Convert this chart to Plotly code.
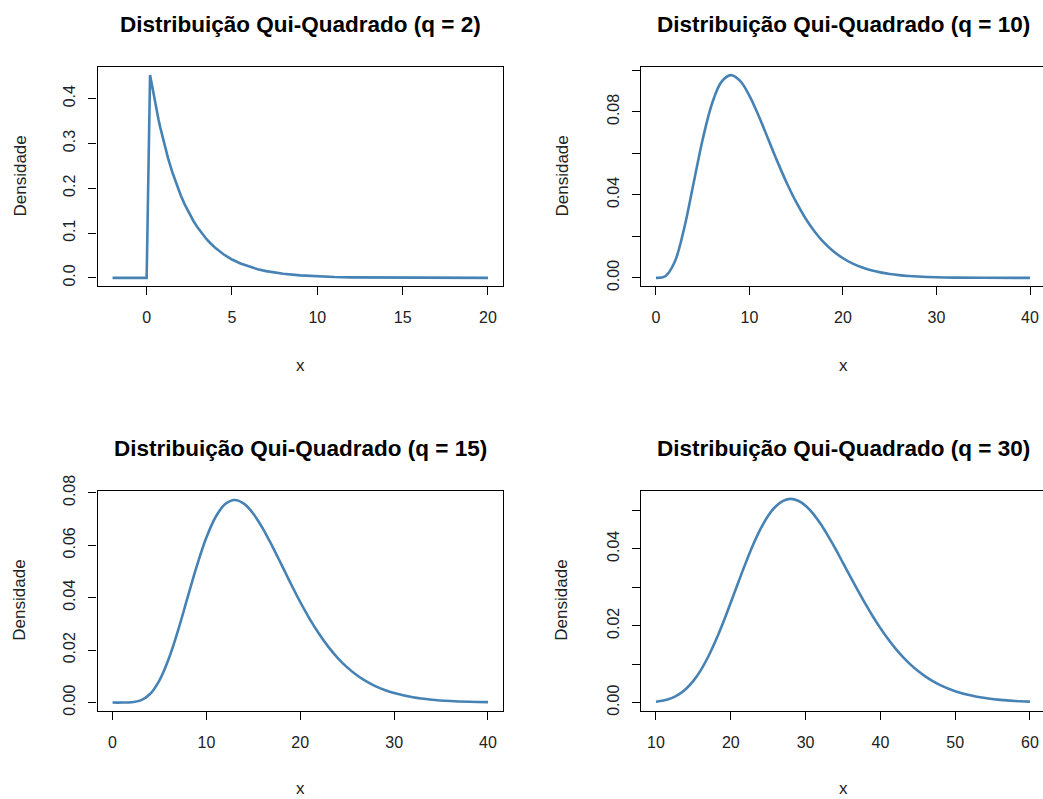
import plotly.graph_objects as go

# ---- data ----
x_q2 = [-2, -1, 0, 0.2, 0.3, 0.4, 0.5, 0.6, 0.7, 0.8, 0.9, 1.0, 1.25, 1.5, 1.75, 2, 2.25, 2.5,
        2.75, 3, 3.25, 3.5, 3.75, 4, 4.5, 5, 5.5, 6, 6.5, 7, 7.5, 8, 9, 10, 11, 12, 14, 16, 18, 20]
y_q2 = [0, 0, 0, 0.4524, 0.4304, 0.4094, 0.3894, 0.3704, 0.3523, 0.3352, 0.3188, 0.3033,
        0.2676, 0.2362, 0.2084, 0.1839, 0.1623, 0.1433, 0.1264, 0.1116, 0.0984, 0.0869,
        0.0767, 0.0677, 0.0527, 0.0410, 0.0320, 0.0249, 0.0194, 0.0151, 0.0118, 0.0092,
        0.0056, 0.0034, 0.0020, 0.0012, 0.0005, 0.0002, 0.0001, 0.00002]

x_q10 = [0, 1, 2, 3, 4, 5, 6, 7, 8, 9, 10, 11, 12, 13, 14, 15, 16, 17, 18, 19, 20,
         21, 22, 23, 24, 25, 26, 27, 28, 30, 32, 35, 40]
y_q10 = [0, 0.00079, 0.00766, 0.02353, 0.04511, 0.06680, 0.08402, 0.09441, 0.09770,
         0.09491, 0.08773, 0.07791, 0.06693, 0.05590, 0.04562, 0.03646, 0.02863,
         0.02213, 0.01687, 0.01271, 0.00946, 0.00697, 0.00509, 0.00369, 0.00265,
         0.00190, 0.00134, 0.00095, 0.00067, 0.00032, 0.00015, 0.00005, 0.000007]

x_q15 = [0, 1, 2, 3, 4, 5, 6, 7, 8, 9, 10, 11, 12, 13, 14, 15, 16, 17, 18, 19, 20,
         21, 22, 23, 24, 25, 26, 27, 28, 29, 30, 32, 34, 36, 38, 40]
y_q15 = [0, 0.000002, 0.0001, 0.00083, 0.00327, 0.00847, 0.01681, 0.02774, 0.04008,
         0.05230, 0.06292, 0.07087, 0.07570, 0.07724, 0.07585, 0.07201, 0.06646,
         0.05979, 0.05261, 0.04533, 0.03835, 0.03194, 0.02623, 0.02124, 0.01699,
         0.01343, 0.01051, 0.00815, 0.00626, 0.00477, 0.00361, 0.00202, 0.00110,
         0.00059, 0.00031, 0.00016]

x_q30 = [10, 11, 12, 13, 14, 15, 16, 17, 18, 19, 20, 21, 22, 23, 24, 25, 26, 27, 28, 29,
         30, 31, 32, 33, 34, 35, 36, 37, 38, 39, 40, 41, 42, 43, 44, 45, 46, 47, 48,
         50, 52, 54, 56, 58, 60]
y_q30 = [0.000236, 0.000543, 0.001114, 0.002071, 0.003546, 0.005652, 0.008458, 0.01199,
         0.01620, 0.02092, 0.02601, 0.03124, 0.03633, 0.04109, 0.04523, 0.04861, 0.05100,
         0.05245, 0.05297, 0.05250, 0.05121, 0.04915, 0.04648, 0.04337, 0.04000, 0.03633,
         0.03271, 0.02913, 0.02565, 0.02239, 0.01937, 0.01659, 0.01411, 0.01189, 0.00995,
         0.00827, 0.00681, 0.00558, 0.00455, 0.00296, 0.00189, 0.00118, 0.00072, 0.00043,
         0.00026]

titles = ["Distribuição Qui-Quadrado (q = 2)", "Distribuição Qui-Quadrado (q = 10)",
          "Distribuição Qui-Quadrado (q = 15)", "Distribuição Qui-Quadrado (q = 30)"]
x_ticks = [[0, 5, 10, 15, 20], [0, 10, 20, 30, 40], [0, 10, 20, 30, 40], [10, 20, 30, 40, 50, 60]]
y_tickvals = [[0, 0.1, 0.2, 0.3, 0.4],
              [0, 0.02, 0.04, 0.06, 0.08, 0.10],
              [0, 0.02, 0.04, 0.06, 0.08],
              [0, 0.01, 0.02, 0.03, 0.04, 0.05]]
y_ticktext = [["0.0", "0.1", "0.2", "0.3", "0.4"],
              ["0.00", "", "0.04", "", "0.08", ""],
              ["0.00", "0.02", "0.04", "0.06", "0.08"],
              ["0.00", "", "0.02", "", "0.04", ""]]

# ---- layout geometry ----
W, H = 1043, 799
FONT = "Liberation Sans, Arial, Helvetica, sans-serif"
COLOR = "#4682B4"

xdom = [[97.5 / W, 503 / W], [641 / W, 1.0]]
ydom = [[1 - 286 / H, 1 - 67 / H], [1 - 710.7 / H, 1 - 490.7 / H]]
xranges = [[-2.88, 20.88], [-1.6, 41.39], [-1.6, 41.6], [8, 61.74]]
yranges = [[-0.0181, 0.4705], [-0.0039, 0.1016], [-0.0031, 0.0808], [-0.0021, 0.0551]]
title_cx = [300, 843, 300, 843]
title_cy = [25, 25, 448, 448]
xlab_cy = [365, 365, 788, 788]
ylab_cx = [20, 562, 20, 562]
shapes_lin = ["linear", "spline", "spline", "spline"]

series = [(x_q2, y_q2), (x_q10, y_q10), (x_q15, y_q15), (x_q30, y_q30)]

fig = go.Figure()
layout = dict(width=W, height=H, margin=dict(l=0, r=0, t=0, b=0, pad=0, autoexpand=False),
              paper_bgcolor="white", plot_bgcolor="white", showlegend=False,
              font=dict(family=FONT, color="black"))
annotations = []
for i, (xs, ys) in enumerate(series):
    r, c = divmod(i, 2)
    sfx = "" if i == 0 else str(i + 1)
    fig.add_trace(go.Scatter(x=xs, y=ys, mode="lines", xaxis="x" + sfx, yaxis="y" + sfx,
                             line=dict(color=COLOR, width=2.6, shape=shapes_lin[i], smoothing=1.0),
                             hoverinfo="skip"))
    layout["xaxis" + sfx] = dict(
        domain=xdom[c], range=xranges[i], anchor="y" + sfx, automargin=False,
        showline=True, linecolor="black", linewidth=1.2, mirror=True,
        ticks="outside", ticklen=8, tickwidth=1.2, tickcolor="black",
        tickvals=x_ticks[i], ticktext=[str(v) for v in x_ticks[i]],
        tickfont=dict(size=16, family=FONT, color="#222"), ticklabelstandoff=9,
        showgrid=False, zeroline=False, fixedrange=True)
    layout["yaxis" + sfx] = dict(
        domain=ydom[r], range=yranges[i], anchor="x" + sfx, automargin=False,
        showline=True, linecolor="black", linewidth=1.2, mirror=(c == 0),
        ticks="outside", ticklen=8, tickwidth=1.2, tickcolor="black",
        tickvals=y_tickvals[i], ticktext=y_ticktext[i], tickangle=-90,
        tickfont=dict(size=16, family=FONT, color="#222"), ticklabelstandoff=7,
        showgrid=False, zeroline=False, fixedrange=True)
    annotations.append(dict(text="<b>" + titles[i] + "</b>", x=title_cx[i] / W, y=1 - title_cy[i] / H,
                            xref="paper", yref="paper", showarrow=False, xanchor="center",
                            yanchor="middle", font=dict(size=22.5, family=FONT, color="black")))
    annotations.append(dict(text="x", x=title_cx[i] / W, y=1 - xlab_cy[i] / H,
                            xref="paper", yref="paper", showarrow=False, xanchor="center",
                            yanchor="middle", font=dict(size=17, family=FONT, color="#222")))
    ymid = (ydom[r][0] + ydom[r][1]) / 2
    annotations.append(dict(text="Densidade", x=ylab_cx[i] / W, y=ymid, textangle=-90,
                            xref="paper", yref="paper", showarrow=False, xanchor="center",
                            yanchor="middle", font=dict(size=17, family=FONT, color="#222")))
layout["annotations"] = annotations
fig.update_layout(**layout)
fig.write_html("out.html")
